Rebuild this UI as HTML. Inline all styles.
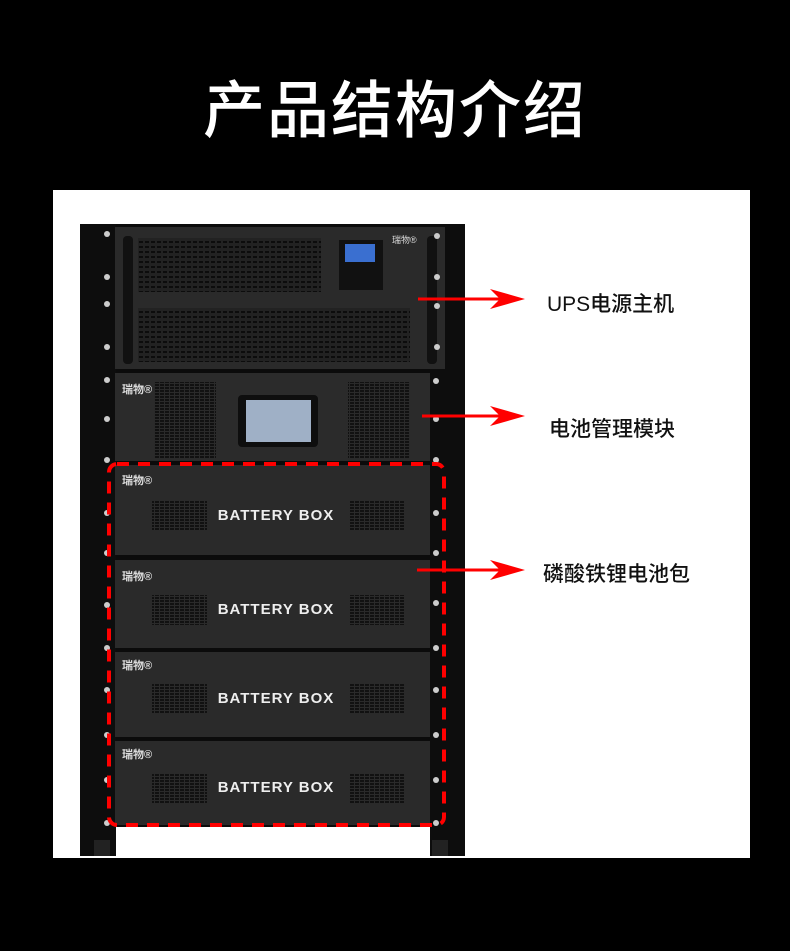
<!DOCTYPE html>
<html><head><meta charset="utf-8"><style>
body{margin:0;width:790px;height:951px;background:#000;overflow:hidden;position:relative;font-family:"Liberation Sans","Noto Sans CJK SC",sans-serif}
.t{position:absolute;left:0;width:790px;top:72px;text-align:center;color:#fff;font-size:62px;font-weight:500;letter-spacing:2px;line-height:80px}
.p{position:absolute;left:53px;top:190px;width:697px;height:668px;background:#fff}
.lab{position:absolute;left:547px;font-size:21px;color:#111;font-weight:500}
</style></head><body>
<div class="t">产品结构介绍</div>
<div class="p"></div>
<svg width="790" height="951" style="position:absolute;left:0;top:0">
<defs>
<pattern id="mesh" width="6" height="5" patternUnits="userSpaceOnUse"><rect width="6" height="5" fill="#222"/><rect x="1" y="1" width="4" height="2" fill="#0c0c0c"/></pattern>
<pattern id="vent" width="5" height="3" patternUnits="userSpaceOnUse"><rect width="5" height="3" fill="#2a2a2a"/><rect x="0" y="0" width="4" height="2" fill="#111"/></pattern>
</defs>
<rect x="80" y="224" width="385" height="603" fill="#0b0b0b"/>
<rect x="80" y="224" width="36" height="632" fill="#0d0d0d"/>
<rect x="430" y="224" width="35" height="632" fill="#0d0d0d"/>
<rect x="94" y="840" width="16" height="16" fill="#222"/><rect x="432" y="840" width="16" height="16" fill="#222"/>
<rect x="115" y="227" width="330" height="142" fill="#2a2a2a"/>
<rect x="123" y="236" width="10" height="128" rx="4" fill="#111"/>
<rect x="427" y="236" width="10" height="128" rx="4" fill="#111"/>
<rect x="138" y="238" width="183" height="54" fill="url(#mesh)"/>
<rect x="138" y="308" width="272" height="54" fill="url(#mesh)"/>
<rect x="339" y="240" width="44" height="50" fill="#111"/>
<rect x="345" y="244" width="30" height="18" fill="#3a6fd0"/>
<text x="392" y="243" fill="#ddd" font-size="9">瑞物®</text>
<rect x="115" y="373" width="315" height="88" fill="#2b2b2b"/>
<rect x="154" y="382" width="62" height="76" fill="url(#vent)"/>
<rect x="348" y="382" width="62" height="76" fill="url(#vent)"/>
<rect x="238" y="395" width="80" height="52" rx="4" fill="#0e0e0e"/>
<rect x="246" y="400" width="65" height="42" fill="#9fb0c6"/>
<text x="122" y="393" fill="#ddd" font-size="11" font-weight="bold">瑞物®</text>
<g font-size="11" fill="#ddd" font-weight="bold">
<rect x="115" y="465" width="315" height="90" fill="#2a2a2a"/>
<rect x="115" y="560" width="315" height="88" fill="#2a2a2a"/>
<rect x="115" y="652" width="315" height="85" fill="#2a2a2a"/>
<rect x="115" y="741" width="315" height="84" fill="#2a2a2a"/>
<text x="122" y="484">瑞物®</text><text x="122" y="580">瑞物®</text><text x="122" y="669">瑞物®</text><text x="122" y="758">瑞物®</text>
</g>
<g fill="url(#vent)">
<rect x="152" y="501" width="55" height="30"/><rect x="350" y="501" width="55" height="30"/>
<rect x="152" y="595" width="55" height="30"/><rect x="350" y="595" width="55" height="30"/>
<rect x="152" y="684" width="55" height="30"/><rect x="350" y="684" width="55" height="30"/>
<rect x="152" y="773" width="55" height="30"/><rect x="350" y="773" width="55" height="30"/>
</g>
<g fill="#eee" font-size="15" text-anchor="middle" letter-spacing="1" font-weight="bold">
<text x="276" y="520">BATTERY BOX</text><text x="276" y="614">BATTERY BOX</text><text x="276" y="703">BATTERY BOX</text><text x="276" y="792">BATTERY BOX</text>
</g>
<g fill="#ccc">
<circle cx="107" cy="234" r="3"/><circle cx="107" cy="277" r="3"/><circle cx="107" cy="304" r="3"/><circle cx="107" cy="347" r="3"/>
<circle cx="437" cy="236" r="3"/><circle cx="437" cy="277" r="3"/><circle cx="437" cy="306" r="3"/><circle cx="437" cy="347" r="3"/>
<circle cx="107" cy="380" r="3"/><circle cx="107" cy="419" r="3"/><circle cx="436" cy="381" r="3"/><circle cx="436" cy="419" r="3"/>
<circle cx="107" cy="460" r="3"/><circle cx="436" cy="460" r="3"/>
<circle cx="107" cy="513" r="3"/><circle cx="436" cy="513" r="3"/><circle cx="107" cy="553" r="3"/><circle cx="436" cy="553" r="3"/>
<circle cx="107" cy="605" r="3"/><circle cx="436" cy="603" r="3"/><circle cx="107" cy="648" r="3"/><circle cx="436" cy="648" r="3"/>
<circle cx="107" cy="690" r="3"/><circle cx="436" cy="690" r="3"/><circle cx="107" cy="735" r="3"/><circle cx="436" cy="735" r="3"/>
<circle cx="107" cy="780" r="3"/><circle cx="436" cy="780" r="3"/><circle cx="107" cy="823" r="3"/><circle cx="436" cy="823" r="3"/>
</g>
<rect x="109" y="464" width="335" height="361" rx="8" fill="none" stroke="#f00" stroke-width="4" stroke-dasharray="12,9"/>
<g stroke="#f00" stroke-width="3"><line x1="418" y1="299" x2="510" y2="299"/><line x1="422" y1="416" x2="510" y2="416"/><line x1="417" y1="570" x2="510" y2="570"/></g>
<g fill="#f00"><path d="M490 289 L525 299 L490 309 L500 299Z"/><path d="M490 406 L525 416 L490 426 L500 416Z"/><path d="M490 560 L525 570 L490 580 L500 570Z"/></g>
</svg>
<div class="lab" style="top:288px">UPS电源主机</div>
<div class="lab" style="top:413px;left:549px">电池管理模块</div>
<div class="lab" style="top:558px;left:543px">磷酸铁锂电池包</div>
</body></html>
